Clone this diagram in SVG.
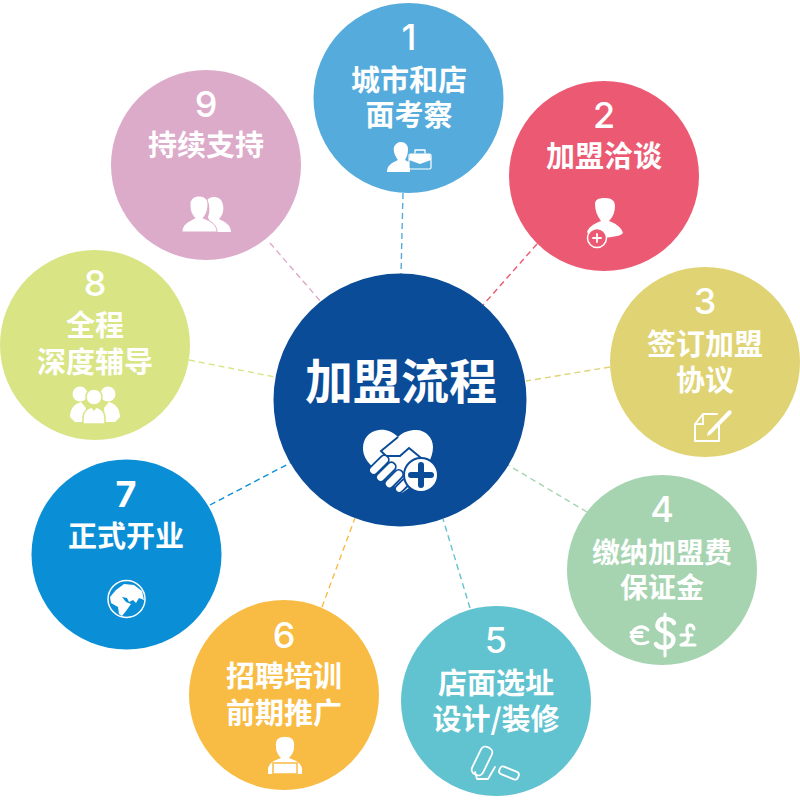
<svg xmlns="http://www.w3.org/2000/svg" width="800" height="800" viewBox="0 0 800 800">
<style>
.t{font-family:"Noto Sans CJK SC","Noto Sans",sans-serif;font-weight:700;font-size:29px;fill:#fff;text-anchor:middle}
.n{font-family:"Inter","Open Sans",sans-serif;font-weight:500;font-size:36px;fill:#fff;text-anchor:middle}
.w{fill:#fff}
.o{fill:none;stroke:#fff;stroke-linecap:round;stroke-linejoin:round}
#connectors line{stroke-width:1.4;stroke-dasharray:6 4;fill:none}
</style>
<rect width="800" height="800" fill="#fff"/>
<g id="connectors">
<line x1="403" y1="193" x2="401" y2="274" stroke="#55acdc"/>
<line x1="537" y1="244" x2="483" y2="305" stroke="#eb5a72"/>
<line x1="610" y1="367" x2="526" y2="381" stroke="#e0d374"/>
<line x1="587" y1="512" x2="508" y2="465" stroke="#a6d4b0"/>
<line x1="470" y1="608" x2="443" y2="519" stroke="#62c3d0"/>
<line x1="322" y1="607" x2="355" y2="518" stroke="#f8bc45"/>
<line x1="210" y1="505" x2="292" y2="462" stroke="#0a8fd6"/>
<line x1="189" y1="360" x2="275" y2="377" stroke="#d9e485"/>
<line x1="270" y1="243" x2="322" y2="303" stroke="#dcabc9"/>
</g>
<g id="center">
<circle cx="400" cy="400" r="126.500" fill="#0b4c98"/>
<text x="401" y="399" font-family="'Noto Sans CJK SC',sans-serif" font-weight="700" font-size="48" fill="#fff" text-anchor="middle">加盟流程</text>
<path class="w" d="M398 437C392 431 385 429 379 430C369 431 363 439 363 448C363 456 367 462 374 468L402 493L420 480L429 462C431 458 433 453 433 447C433 438 426 430 416 430C409 430 403 432 398 437Z"/>
<path d="M398 437L381 451L386 456L400 456L409 448L426 462" fill="none" stroke="#0b4c98" stroke-width="2"/>
<g fill="#fff" stroke="#0b4c98" stroke-width="1.800">
<rect x="-12" y="-4.500" width="24" height="9" rx="4.500" transform="translate(379 465) rotate(-45)"/>
<rect x="-12" y="-4.500" width="24" height="9" rx="4.500" transform="translate(386 472) rotate(-45)"/>
<rect x="-11" y="-4.500" width="22" height="9" rx="4.500" transform="translate(394 479) rotate(-45)"/>
<rect x="-8" y="-4" width="16" height="8" rx="4" transform="translate(402 486) rotate(-45)"/>
</g>
<circle cx="421" cy="475" r="17" fill="#fff" stroke="#0b4c98" stroke-width="2"/>
<path d="M421 465V485M411 475H431" stroke="#0b4c98" stroke-width="6" stroke-linecap="round"/>
</g>
<g id="node1">
<circle cx="408.500" cy="98" r="95" fill="#55acdc"/>
<text class="n" x="409" y="50">1</text>
<text class="t" x="409" y="91">城市和店</text>
<text class="t" x="409" y="126">面考察</text>
<path class="w" d="M387 172C387 166 391 163 398 160C395 156 393 151 394 147C395 144 398 142 401 142C405 142 408 145 408 149C408 153 407 157 405 160C407 161 409 162 410 163V172Z"/>
<rect x="409" y="154" width="22" height="15" rx="1.500" fill="#55acdc" stroke="#fff" stroke-width="1.200"/>
<path class="w" d="M410 154H430L431 160L420 164L409 160Z"/>
<path class="o" d="M415 153V150H425V153" stroke-width="1.300"/>
</g>
<g id="node2">
<circle cx="604" cy="176" r="95" fill="#eb5a72"/>
<text class="n" x="604" y="128">2</text>
<text class="t" x="604" y="167">加盟洽谈</text>
<path class="w" d="M587 232C589 226 596 223 601 221C597 216 595 210 595 204C595 200 598 198 605 198C612 198 615 201 615 206C615 212 613 217 609 221C614 223 621 226 623 233C621 236 612 237 604 238H592Z"/>
<circle cx="597" cy="238" r="9.500" fill="#eb5a72" stroke="#fff" stroke-width="1.500"/>
<path class="o" d="M593 238H601M597 234V242" stroke-width="1.800"/>
</g>
<g id="node3">
<circle cx="705" cy="362" r="95" fill="#e0d374"/>
<text class="n" x="705" y="314">3</text>
<text class="t" x="705" y="355">签订加盟</text>
<text class="t" x="705" y="391">协议</text>
<path class="o" d="M719 424V441H695V424L703 414H717" stroke-width="2"/>
<path class="w" d="M708 432L728 411C730 409 733 412 731 414L711 434L707 436Z"/>
<path d="M695 424H703V414" fill="none" stroke="#fff" stroke-width="1.800"/>
</g>
<g id="node4">
<circle cx="662" cy="570" r="95" fill="#a6d4b0"/>
<text class="n" x="662" y="522">4</text>
<text class="t" x="662" y="563" style="font-size:28px">缴纳加盟费</text>
<text class="t" x="662" y="598" style="font-size:28px">保证金</text>
<path class="o" d="M648 630C645 627 641 626 637 628C632 630 631 636 633 640C636 644 642 645 648 642M631 632.500H642M631 636.500H642" stroke-width="3"/>
<path class="o" d="M674 623C671 618 660 617 658 623C656 628 660 630 665 632C670 634 675 637 673 642C671 649 659 649 656 644" stroke-width="4.500"/>
<path class="o" d="M665 614V656" stroke-width="3"/>
<path class="o" d="M694 629C693 624 688 624 687 628C686 632 689 635 688 640C687 643 684 644 681 645H695M681 635H692" stroke-width="3.200"/>
</g>
<g id="node5">
<circle cx="496" cy="701" r="95" fill="#62c3d0"/>
<text class="n" x="496" y="653">5</text>
<text class="t" x="496" y="694">店面选址</text>
<text class="t" x="496" y="730">设计/装修</text>
<g fill="none" stroke="#fff" stroke-width="1.800" stroke-linejoin="round" stroke-linecap="round">
<rect x="-6" y="-15" width="12" height="30" rx="5" transform="translate(482 761) rotate(26)"/>
<rect x="-10" y="-4" width="20" height="8" rx="3" transform="translate(509 773) rotate(22)"/>
<path d="M475 772L477 779L488 779L495 767"/>
</g>
</g>
<g id="node6">
<circle cx="284" cy="695" r="95" fill="#f8bc45"/>
<text class="n" x="284" y="648">6</text>
<text class="t" x="284" y="687">招聘培训</text>
<text class="t" x="284" y="724">前期推广</text>
<path class="w" d="M268 774V768C270 762 275 760 281 758C277 754 276 750 276 747C275 739 279 737 285 737C291 737 295 739 294 747C294 750 293 754 289 758C295 760 300 762 302 768V774Z"/>
<rect x="273" y="763" width="24" height="11" fill="#fff" stroke="#f8bc45" stroke-width="1.500"/>
</g>
<g id="node7">
<circle cx="126.500" cy="554.500" r="95" fill="#0a8fd6"/>
<text class="n" x="126" y="507" style="font-weight:700">7</text>
<text class="t" x="126" y="547">正式开业</text>
<circle cx="126.500" cy="599" r="18.500" fill="#0a8fd6" stroke="#fff" stroke-width="1.500"/>
<path class="w" d="M116 590L124 584L134 585L142 591L144 600L139 598L136 603L133 600L129 602L127 598L122 597L126 602L131 604L126 611L122 616L119 614L118 607L111 603L110 597Z"/>
</g>
<g id="node8">
<circle cx="95" cy="345" r="95" fill="#d9e485"/>
<text class="n" x="95" y="296">8</text>
<text class="t" x="95" y="336">全程</text>
<text class="t" x="95" y="373">深度辅导</text>
<circle class="w" cx="80" cy="394" r="7.500"/>
<circle class="w" cx="108" cy="394" r="7.500"/>
<path class="w" d="M70 417C70 409 74 404 81 402L86 408L85 422H75ZM120 417C120 409 116 404 109 402L104 408L105 422H115Z"/>
<circle cx="94" cy="397" r="8" class="w" stroke="#d9e485" stroke-width="1.500"/>
<path class="w" stroke="#d9e485" stroke-width="1.500" d="M83 424V418C83 412 87 408 92 407L94 410L96 407C101 408 105 412 105 418V424Z"/>
</g>
<g id="node9">
<circle cx="206" cy="165" r="95" fill="#dcabc9"/>
<text class="n" x="206" y="117">9</text>
<text class="t" x="206" y="156">持续支持</text>
<path class="w" d="M213 232L231 232C231 225 225 222 219 219C223 215 224 210 223 205C222 199 218 197 214 197C211 197 209 198 207 200C210 205 210 212 208 217Z"/>
<path class="w" stroke="#dcabc9" stroke-width="1" d="M182 232C182 225 187 222 195 218C190 213 190 208 190 203C191 198 195 196 199 196C204 196 208 199 208 204C208 209 207 214 203 218C211 221 217 225 217 232Z"/>
</g>
</svg>
